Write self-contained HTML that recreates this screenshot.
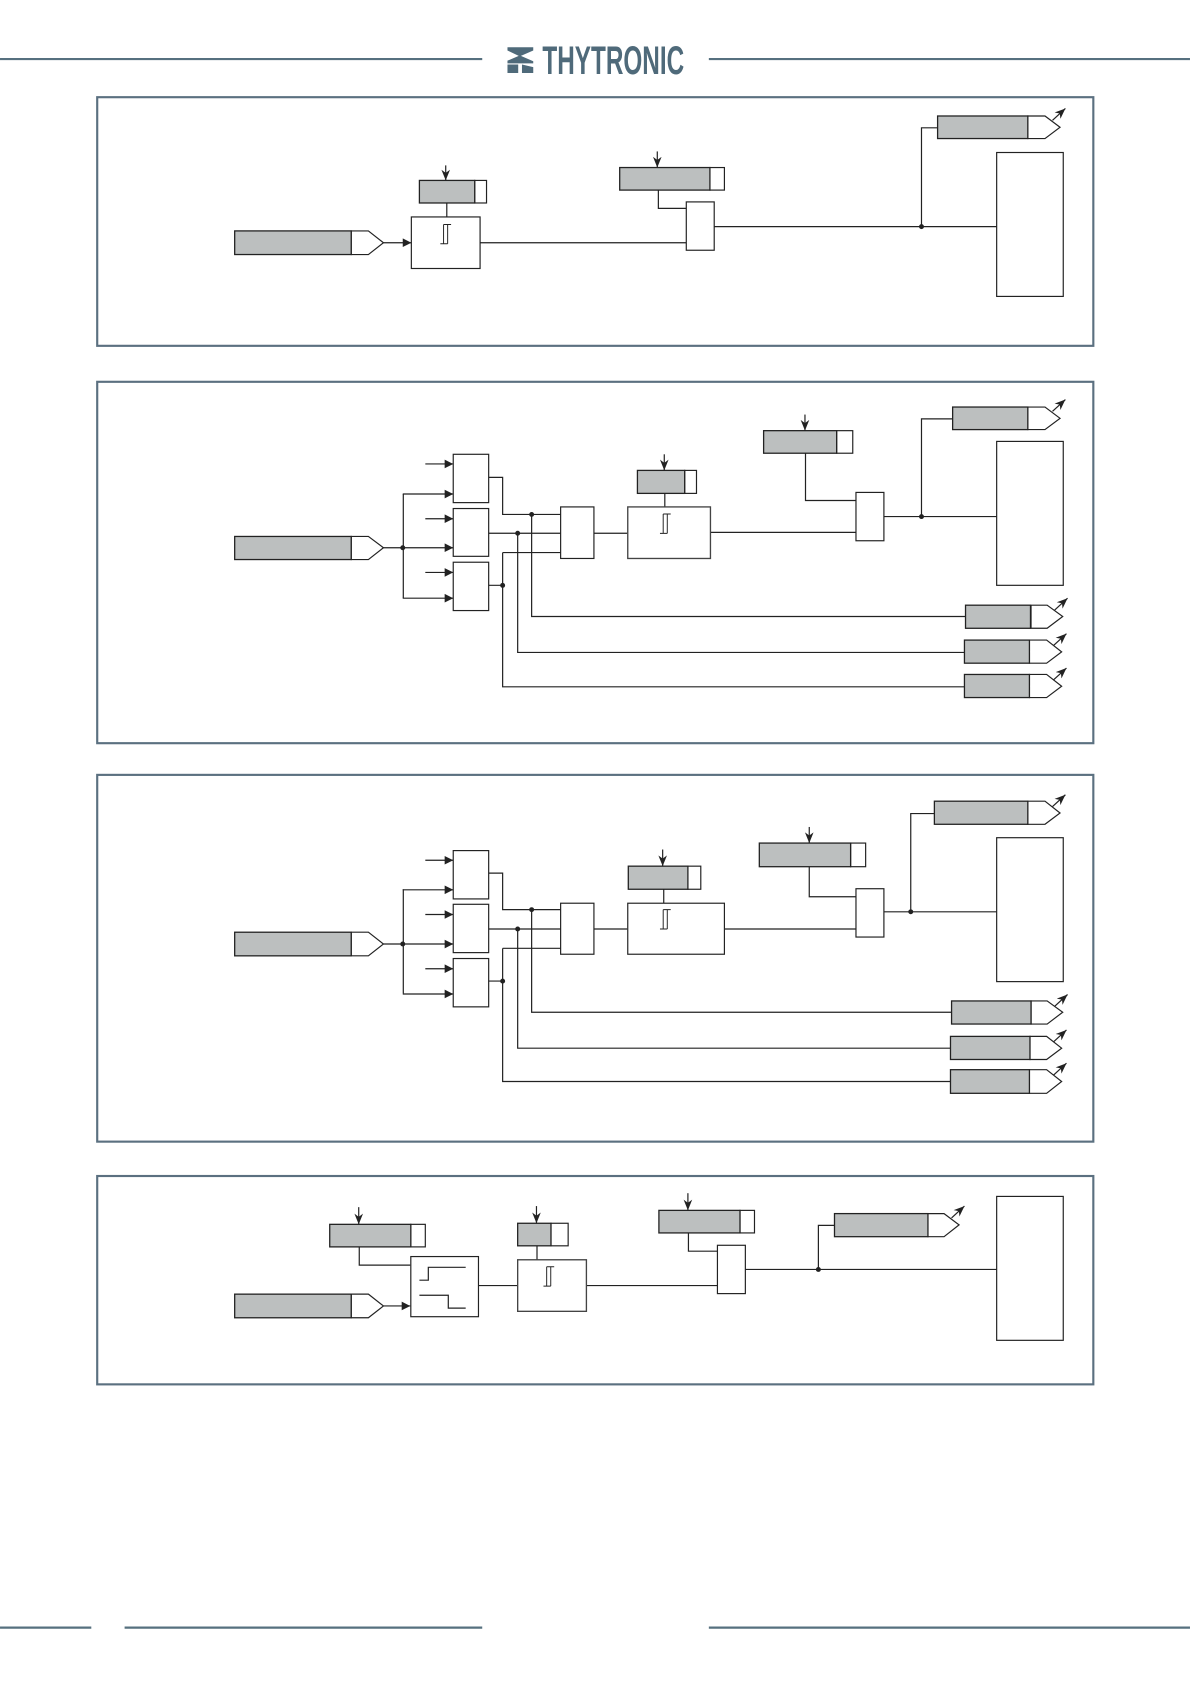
<!DOCTYPE html>
<html><head><meta charset="utf-8"><style>
html,body{margin:0;padding:0;background:#fff}
svg{display:block}
.p{fill:none;stroke:#5b7080;stroke-width:2}
.r{stroke:#56707f;stroke-width:2}
.w{fill:#fff;stroke:#222;stroke-width:1.1}
.g{fill:#bcbfbf;stroke:#222;stroke-width:1.2}
.l{fill:none;stroke:#222;stroke-width:1.12}
.t{fill:#fff;stroke:#444;stroke-width:1.25}
.d{fill:#222}
</style></head><body>
<svg xmlns="http://www.w3.org/2000/svg" width="1190" height="1684" viewBox="0 0 1108 1568">
<defs>
<marker id="h" markerUnits="userSpaceOnUse" markerWidth="10" markerHeight="10" refX="9" refY="4.5" orient="auto"><path d="M1 .5L9 4.5L1 8.5Z" fill="#222"/></marker>
<marker id="v" markerUnits="userSpaceOnUse" markerWidth="11" markerHeight="10" refX="10" refY="4.5" orient="auto"><path d="M0 .5L10 4.5L0 8.5L3 4.5Z" fill="#222"/></marker>
<path id="int" d="M3 0V18M6.800 0V18M3 0H10M0 18H6.800" fill="none" stroke="#222" stroke-width=".9"/>
</defs>

<line class="r" x1="0" y1="55" x2="449" y2="55"/><line class="r" x1="660" y1="55" x2="1108" y2="55"/>
<line class="r" x1="0" y1="1515.500" x2="85" y2="1515.500"/><line class="r" x1="116" y1="1515.500" x2="449" y2="1515.500"/><line class="r" x1="660" y1="1515.500" x2="1108" y2="1515.500"/>
<path fill="#4f6a7a" d="M472.500 44H496.500V47L485 52L496.500 57V59H472.500V56.500L483 52L472.500 47ZM472.500 60H482.500V68H472.500ZM486 60L496.500 62.500V68H486Z"/>
<text x="505" y="69" font-family="Liberation Sans, sans-serif" font-weight="bold" font-size="37" fill="#4f6a7a" textLength="132" lengthAdjust="spacingAndGlyphs">THYTRONIC</text>

<rect class="p" x="90.500" y="90.500" width="927.500" height="231.500"/>
<rect class="p" x="90.500" y="355.500" width="927.500" height="336.500"/>
<rect class="p" x="90.500" y="721.500" width="927.500" height="341.500"/>
<rect class="p" x="90.500" y="1095" width="927.500" height="194"/>

<!-- Panel 1 -->
<path class="w" d="M327 215H343L357 226L343 237H327Z"/><rect class="g" x="218.500" y="215" width="108.500" height="22"/>
<line class="l" x1="357" y1="226" x2="383" y2="226" marker-end="url(#h)"/>
<rect class="w" x="383" y="202" width="64" height="48"/><use href="#int" x="410" y="209"/>
<rect class="w" x="442" y="168" width="11" height="21"/><rect class="g" x="390.500" y="168" width="51.500" height="21"/>
<line class="l" x1="415" y1="154" x2="415" y2="168" marker-end="url(#v)"/><line class="l" x1="416" y1="189" x2="416" y2="202"/>
<rect class="w" x="661" y="156" width="13.500" height="21"/><rect class="g" x="577" y="156" width="84" height="21"/>
<line class="l" x1="612" y1="141" x2="612" y2="156" marker-end="url(#v)"/>
<path class="l" d="M613 177V194H639M447 226H639M665 211H928M858 211V119H873"/>
<rect class="w" x="639" y="188" width="26" height="45"/><circle class="d" cx="858" cy="211" r="2.300"/>
<path class="w" d="M957 108H973L987 118.500L973 129H957Z"/><rect class="g" x="873" y="108" width="84" height="21"/>
<line class="l" x1="980" y1="112" x2="992" y2="101" marker-end="url(#v)"/>
<rect class="w" x="928" y="142" width="62" height="134"/>

<!-- Panel 2 -->
<path class="w" d="M327 499.500H343L357 510L343 521H327Z"/><rect class="g" x="218.500" y="499.500" width="108.500" height="21.500"/>
<path class="l" d="M375.500 460V557"/>
<line class="l" x1="357" y1="510" x2="422" y2="510" marker-end="url(#h)"/>
<line class="l" x1="375" y1="460" x2="422" y2="460" marker-end="url(#h)"/>
<line class="l" x1="375" y1="557" x2="422" y2="557" marker-end="url(#h)"/>
<line class="l" x1="396" y1="432" x2="422" y2="432" marker-end="url(#h)"/>
<line class="l" x1="396" y1="483" x2="422" y2="483" marker-end="url(#h)"/>
<line class="l" x1="396" y1="533" x2="422" y2="533" marker-end="url(#h)"/>
<circle class="d" cx="375" cy="510" r="2.300"/>
<rect class="w" x="422" y="423" width="33" height="45"/><rect class="w" x="422" y="473.500" width="33" height="44.500"/><rect class="w" x="422" y="523.500" width="33" height="45"/>
<path class="l" d="M455 444.500H468V479H522M455 496.500H522M455 545H468M468 514.500H522M468 514.500V639.500H898M495 479V574H899M482 496.500V607.500H898M553 496.500H584M662 495.700H797M619 459.400V472M750 422V466H797M823 481H928M858 481V390H887"/>
<circle class="d" cx="495" cy="479" r="2.300"/><circle class="d" cx="482" cy="496.500" r="2.300"/><circle class="d" cx="468" cy="545" r="2.300"/><circle class="d" cx="858" cy="481" r="2.300"/>
<rect class="w" x="522" y="472" width="31" height="48"/>
<rect class="t" x="584.500" y="472" width="77" height="48"/><use href="#int" x="614.500" y="478.600"/>
<rect class="w" x="637.500" y="438" width="11" height="21.400"/><rect class="g" x="593.500" y="438" width="44" height="21.400"/>
<line class="l" x1="618.500" y1="423" x2="618.500" y2="438" marker-end="url(#v)"/>
<rect class="w" x="779" y="401" width="15" height="21"/><rect class="g" x="711" y="401" width="68" height="21"/>
<line class="l" x1="749.500" y1="386" x2="749.500" y2="401" marker-end="url(#v)"/>
<rect class="w" x="797" y="458.500" width="26" height="45"/>
<path class="w" d="M957 379H973L987 389.500L973 400H957Z"/><rect class="g" x="887" y="379" width="70" height="21"/>
<line class="l" x1="980" y1="383" x2="992" y2="372" marker-end="url(#v)"/>
<rect class="w" x="928" y="411" width="62" height="134"/>
<path class="w" d="M960 563.500H975L989.500 574L975 585H960Z"/><rect class="g" x="899" y="563.500" width="60.500" height="21.500"/>
<line class="l" x1="982" y1="568" x2="994" y2="557" marker-end="url(#v)"/>
<path class="w" d="M958.500 596H974.500L988.500 607L974.500 617.500H958.500Z"/><rect class="g" x="898" y="596" width="60.500" height="21.500"/>
<line class="l" x1="981" y1="601" x2="993" y2="590" marker-end="url(#v)"/>
<path class="w" d="M958.500 628H974.500L988.500 639L974.500 649.500H958.500Z"/><rect class="g" x="898" y="628" width="60.500" height="21.500"/>
<line class="l" x1="981" y1="633" x2="993" y2="622" marker-end="url(#v)"/>

<!-- Panel 3 -->
<path class="w" d="M327 868H343L357 879L343 890H327Z"/><rect class="g" x="218.500" y="868" width="108.500" height="22"/>
<path class="l" d="M375.500 828V925"/>
<line class="l" x1="357" y1="879" x2="422" y2="879" marker-end="url(#h)"/>
<line class="l" x1="375" y1="828.500" x2="422" y2="828.500" marker-end="url(#h)"/>
<line class="l" x1="375" y1="925.500" x2="422" y2="925.500" marker-end="url(#h)"/>
<line class="l" x1="396" y1="801" x2="422" y2="801" marker-end="url(#h)"/>
<line class="l" x1="396" y1="851.500" x2="422" y2="851.500" marker-end="url(#h)"/>
<line class="l" x1="396" y1="902" x2="422" y2="902" marker-end="url(#h)"/>
<circle class="d" cx="375" cy="879" r="2.300"/>
<rect class="w" x="422" y="792" width="33" height="45"/><rect class="w" x="422" y="842" width="33" height="45"/><rect class="w" x="422" y="892.500" width="33" height="45"/>
<path class="l" d="M455 813H468V847H522M455 865H522M455 913.500H468M468 883H522M468 883V1007H885M495 847V942.500H886M482 865V976H885M553 865H584M675 865H797M618 828V841M753.500 807V835H797M823 849H928M848 849V757.500H870"/>
<circle class="d" cx="495" cy="847" r="2.300"/><circle class="d" cx="482" cy="865" r="2.300"/><circle class="d" cx="468" cy="913.500" r="2.300"/><circle class="d" cx="848" cy="849" r="2.300"/>
<rect class="w" x="522" y="841" width="31" height="47.500"/>
<rect class="w" x="584.500" y="841" width="90" height="47.500"/><use href="#int" x="614.500" y="847"/>
<rect class="w" x="640.500" y="806.500" width="12" height="21.500"/><rect class="g" x="585" y="806.500" width="55.500" height="21.500"/>
<line class="l" x1="617" y1="791" x2="617" y2="806.500" marker-end="url(#v)"/>
<rect class="w" x="792" y="785" width="14" height="22"/><rect class="g" x="707" y="785" width="85" height="22"/>
<line class="l" x1="753.500" y1="770" x2="753.500" y2="785" marker-end="url(#v)"/>
<rect class="w" x="797" y="827.500" width="26" height="45"/>
<path class="w" d="M957 746H973L987 757L973 767.500H957Z"/><rect class="g" x="870" y="746" width="87" height="21.500"/>
<line class="l" x1="980" y1="751" x2="992" y2="740" marker-end="url(#v)"/>
<rect class="w" x="928" y="780" width="62" height="134"/>
<path class="w" d="M960 932H975L989.500 942.500L975 953.500H960Z"/><rect class="g" x="886" y="932" width="74" height="21.500"/>
<line class="l" x1="982" y1="937" x2="994" y2="926" marker-end="url(#v)"/>
<path class="w" d="M959 965H974.500L988.500 976L974.500 986.500H959Z"/><rect class="g" x="885" y="965" width="74" height="21.500"/>
<line class="l" x1="981" y1="970" x2="993" y2="959" marker-end="url(#v)"/>
<path class="w" d="M958.500 996H974.500L988.500 1007L974.500 1018H958.500Z"/><rect class="g" x="885" y="996" width="73.500" height="22"/>
<line class="l" x1="981" y1="1001" x2="993" y2="990" marker-end="url(#v)"/>

<!-- Panel 4 -->
<path class="w" d="M327 1205H343L357 1216L343 1227H327Z"/><rect class="g" x="218.500" y="1205" width="108.500" height="22"/>
<line class="l" x1="357" y1="1216" x2="382" y2="1216" marker-end="url(#h)"/>
<rect class="w" x="382.500" y="1170" width="63" height="56"/>
<path class="l" d="M390.500 1192H398.800V1180H433.600M390.500 1206H417.400V1218H433.600M334.500 1161V1178H382M445.500 1197H482M546 1197H668M500 1160V1173M641 1148V1165H668M694 1182H928M762 1182V1141H777"/>
<rect class="w" x="382.500" y="1140" width="13.500" height="21"/><rect class="g" x="307" y="1140" width="75.500" height="21"/>
<line class="l" x1="334" y1="1124" x2="334" y2="1140" marker-end="url(#v)"/>
<rect class="t" x="482" y="1173" width="64" height="48"/><use href="#int" x="506" y="1179.500"/>
<rect class="w" x="513" y="1139" width="16" height="21"/><rect class="g" x="482" y="1139" width="31" height="21"/>
<line class="l" x1="499.500" y1="1123" x2="499.500" y2="1139" marker-end="url(#v)"/>
<rect class="w" x="689" y="1127" width="13.500" height="21"/><rect class="g" x="613.500" y="1127" width="75.500" height="21"/>
<line class="l" x1="640.500" y1="1111" x2="640.500" y2="1127" marker-end="url(#v)"/>
<rect class="w" x="668" y="1159.500" width="26" height="45"/>
<circle class="d" cx="762" cy="1182" r="2.300"/>
<path class="w" d="M864 1130H879L893 1140.500L879 1151.500H864Z"/><rect class="g" x="777" y="1130" width="87" height="21.500"/>
<line class="l" x1="886" y1="1134" x2="898" y2="1123" marker-end="url(#v)"/>
<rect class="w" x="928" y="1114" width="62" height="134"/>
</svg>
</body></html>
